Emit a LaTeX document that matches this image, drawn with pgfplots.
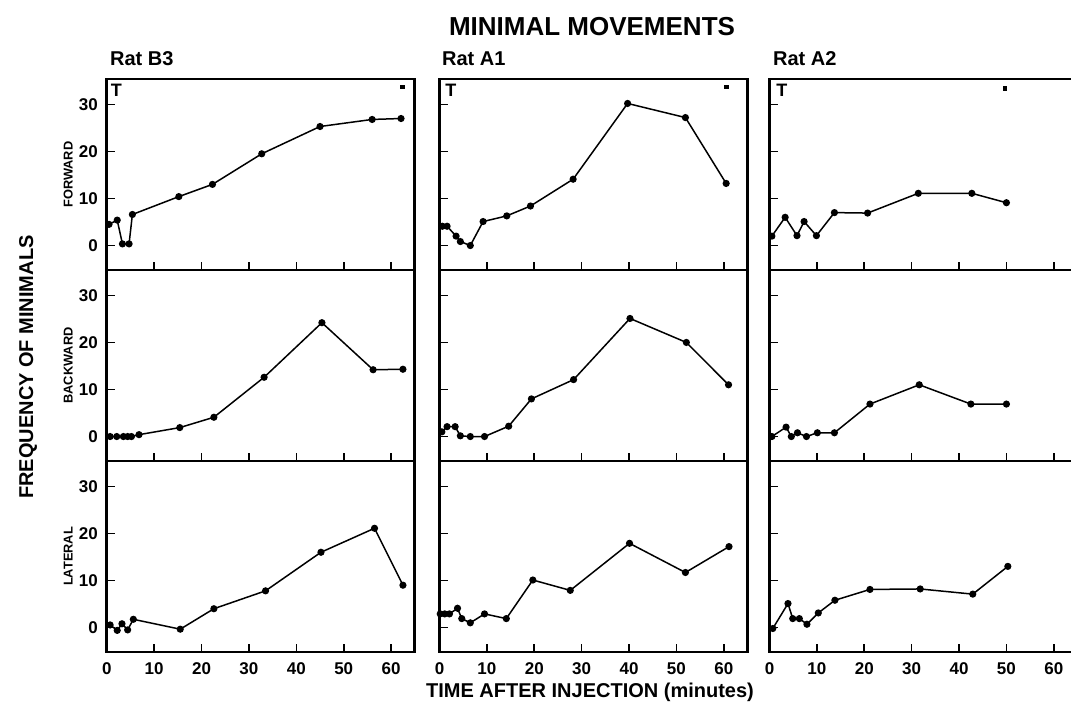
\documentclass[border=0pt]{standalone}
\usepackage{fontspec}
\setmainfont{Liberation Sans}
\usepackage{pgfplots}
\pgfplotsset{compat=1.18}
\pgfplotsset{
  panel/.style={
    scale only axis, width=154pt, height=95.5pt,
    xmin=0, xmax=65, ymin=-5.2, ymax=35.4,
    xtick={0,10,...,60}, ytick={0,10,20,30},
    tick align=inside, xtick pos=bottom, ytick pos=left,
    major tick length=4pt,
    axis line style={line width=1.4pt},
    tick style={line width=0.8pt, black},
    /pgf/number format/assume math mode=true,
    tick label style={font=\bfseries\fontsize{8.5}{9}\selectfont},
    yticklabel style={xshift=-1pt},
    xticklabel style={yshift=-2pt},
    anchor=south west, clip=false,
  },
  nox/.style={xticklabels={}},
  noy/.style={yticklabels={}},
  ser/.style={black, line width=0.75pt, mark=*, mark size=1.4pt},
  sig/.style={black, only marks, mark=square*, mark size=0.9pt},
}
\tikzset{rowlab/.style={font=\bfseries\fontsize{6.4}{7}\selectfont, rotate=90}}
\begin{document}
\begin{tikzpicture}[x=0.5pt,y=0.5pt]
\path[use as bounding box] (0,0) rectangle (1071,708);
% ---------- Row 1: FORWARD ----------
\begin{axis}[panel, nox, at={(53.4pt,219pt)}]
\addplot[ser] coordinates {(0.46,4.5)(2.2,5.4)(3.3,0.35)(4.7,0.35)(5.4,6.6)(15.2,10.4)(22.3,13.0)(32.7,19.5)(45.0,25.3)(56.0,26.8)(62.1,27.0)};
\addplot[sig] coordinates {(62.4,33.7)};
\node[font=\bfseries\small] at (axis cs:2.0,33.0) {T};
\node[rowlab] at (rel axis cs:-0.125,0.5) {FORWARD};
\end{axis}
\begin{axis}[panel, nox, noy, at={(219.75pt,219pt)}]
\addplot[ser] coordinates {(0.6,4.1)(1.6,4.1)(3.5,2.0)(4.4,0.85)(6.5,0)(9.2,5.1)(14.2,6.3)(19.2,8.4)(28.2,14.1)(39.7,30.2)(51.9,27.2)(60.5,13.2)};
\addplot[sig] coordinates {(60.6,33.7)};
\node[font=\bfseries\small] at (axis cs:2.4,33.0) {T};
\end{axis}
\begin{axis}[panel, nox, noy, at={(384.75pt,219pt)}]
\addplot[ser] coordinates {(0.5,2.0)(3.3,6.0)(5.8,2.1)(7.3,5.1)(9.9,2.1)(13.7,7.0)(20.7,6.9)(31.4,11.1)(42.7,11.1)(50.0,9.1)};
\addplot[sig] coordinates {(49.7,33.4)};
\node[font=\bfseries\small] at (axis cs:2.6,33.0) {T};
\end{axis}
% ---------- Row 2: BACKWARD ----------
\begin{axis}[panel, nox, at={(53.4pt,123.5pt)}]
\addplot[ser] coordinates {(0.7,0)(2.1,0)(3.5,0)(4.4,0)(5.2,0)(6.8,0.4)(15.4,1.9)(22.6,4.1)(33.2,12.6)(45.4,24.2)(56.2,14.2)(62.5,14.3)};
\node[rowlab] at (rel axis cs:-0.125,0.5) {BACKWARD};
\end{axis}
\begin{axis}[panel, nox, noy, at={(219.75pt,123.5pt)}]
\addplot[ser] coordinates {(0.5,1.0)(1.6,2.1)(3.3,2.1)(4.4,0.15)(6.5,0)(9.5,0)(14.6,2.2)(19.4,8.0)(28.3,12.1)(40.2,25.1)(52.1,20.0)(61.0,11.0)};
\end{axis}
\begin{axis}[panel, nox, noy, at={(384.75pt,123.5pt)}]
\addplot[ser] coordinates {(0.5,0)(3.5,2.0)(4.6,0)(5.9,0.8)(7.8,0)(10.1,0.8)(13.7,0.8)(21.2,6.9)(31.6,11.0)(42.5,6.9)(50.0,6.9)};
\end{axis}
% ---------- Row 3: LATERAL ----------
\begin{axis}[panel, at={(53.4pt,28pt)}]
\addplot[ser] coordinates {(0.7,0.55)(2.2,-0.6)(3.2,0.8)(4.4,-0.5)(5.6,1.75)(15.5,-0.35)(22.6,4.0)(33.5,7.8)(45.2,16.0)(56.5,21.1)(62.5,9.0)};
\node[rowlab] at (rel axis cs:-0.125,0.5) {LATERAL};
\end{axis}
\begin{axis}[panel, noy, at={(219.75pt,28pt)}]
\addplot[ser] coordinates {(0.15,2.9)(1.1,2.9)(2.1,2.9)(3.8,4.1)(4.7,1.9)(6.5,1.0)(9.5,2.9)(14.1,1.9)(19.7,10.1)(27.6,7.9)(40.1,17.9)(51.9,11.7)(61.1,17.2)};
\end{axis}
\begin{axis}[panel, noy, at={(384.75pt,28pt)}]
\addplot[ser] coordinates {(0.7,-0.2)(3.9,5.1)(4.9,1.9)(6.3,1.9)(7.9,0.7)(10.3,3.1)(13.8,5.8)(21.2,8.1)(31.8,8.2)(42.9,7.1)(50.3,13.0)};
\end{axis}
% ---------- Titles and labels ----------
\node[font=\bfseries\fontsize{13}{14}\selectfont] at (592,681) {MINIMAL MOVEMENTS};
\node[font=\bfseries\fontsize{10}{11}\selectfont, anchor=west] at (103,649) {Rat B3};
\node[font=\bfseries\fontsize{10}{11}\selectfont, anchor=west] at (435,649) {Rat A1};
\node[font=\bfseries\fontsize{10}{11}\selectfont, anchor=west] at (766,649) {Rat A2};
\node[font=\bfseries\fontsize{10}{11}\selectfont] at (590,16) {TIME AFTER INJECTION (minutes)};
\node[font=\bfseries\fontsize{10}{11}\selectfont, rotate=90] at (28,341) {FREQUENCY OF MINIMALS};
\end{tikzpicture}
\end{document}
